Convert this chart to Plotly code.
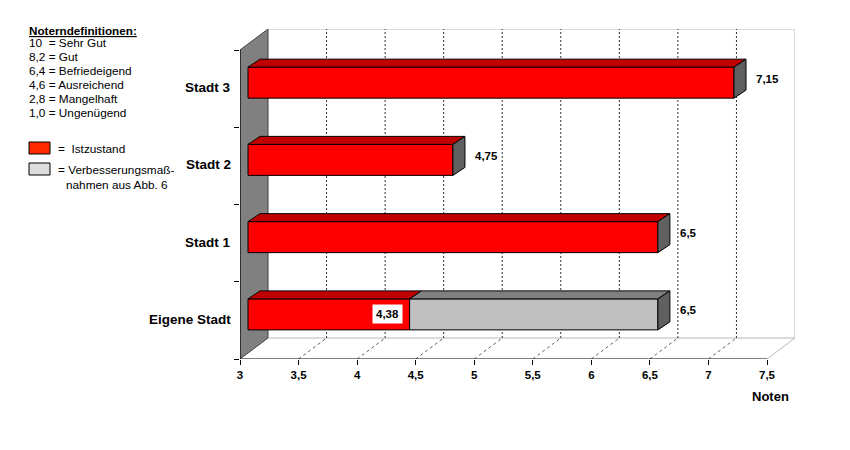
import plotly.graph_objects as go

# ---------------- data ----------------
categories = ["Eigene Stadt", "Stadt 1", "Stadt 2", "Stadt 3"]
ist_values = [4.38, 6.5, 4.75, 7.15]          # Istzustand
massnahmen_values = [6.5, None, None, None]   # nach Verbesserungsmaßnahmen
x_ticks = [3, 3.5, 4, 4.5, 5, 5.5, 6, 6.5, 7, 7.5]
noten_lines = ["10  = Sehr Gut", "8,2 = Gut", "6,4 = Befriedeigend",
               "4,6 = Ausreichend", "2,8 = Mangelhaft", "1,0 = Ungenügend"]

# ---------------- geometry (style) ----------------
W, H = 850, 450
OFF = 8  # page body margin
ML, MR, MT, MB = 240 - OFF, 55 + OFF, 29 - OFF, 91 + OFF
PX_PER_X = 117.11
PX_PER_Y = 77.25
plot_w = W - ML - MR
plot_h = H - MT - MB
XMIN = x_ticks[0]
XMAX_T = x_ticks[-1]
xr = [XMIN, XMIN + plot_w / PX_PER_X]
YLO = -0.5
yr = [YLO, YLO + plot_h / PX_PER_Y]

def dxp(p):  # pixels -> x data units
    return p / PX_PER_X

def dyp(p):  # pixels -> y data units
    return p / PX_PER_Y

wdx, wdy = dxp(28), dyp(21)    # wall depth
fdx, fdy = dxp(8), dyp(6)      # bar front-face offset
bdx, bdy = dxp(12), dyp(8)     # bar depth
bh = dyp(31)                   # bar height
YHI = len(categories) - 0.5
YTOP = yr[1]

def px(x):  # screen pixel -> paper
    return (x - OFF - ML) / plot_w

def py(y):
    return (H - MB - (y - OFF)) / plot_h

def fmt(v):
    return f"{v:g}".replace(".", ",")

FONT = "Arial, Liberation Sans, sans-serif"
RED, RED_TOP = "#FF0000", "#C00000"
GRAY, GRAY_TOP = "#C0C0C0", "#808080"
SIDE = "#606060"

fig = go.Figure()
shapes = []

# left wall
shapes.append(dict(type="path", layer="below",
                   path=f"M {XMIN},{YLO} L {XMIN},{YHI} L {XMIN+wdx},{YTOP} L {XMIN+wdx},{YLO+wdy} Z",
                   fillcolor="#808080", line=dict(color="#404040", width=1)))
# back wall border
for (x0, y0, x1, y1) in [(XMIN + wdx, YTOP, XMAX_T + wdx, YTOP),
                         (XMAX_T + wdx, YLO + wdy, XMAX_T + wdx, YTOP),
                         (XMIN + wdx, YLO + wdy, XMAX_T + wdx, YLO + wdy),
                         (XMAX_T, YLO, XMAX_T + wdx, YLO + wdy)]:
    shapes.append(dict(type="line", layer="below", x0=x0, y0=y0, x1=x1, y1=y1,
                       line=dict(color="#B8B8B8", width=1)))
# gridlines
for v in x_ticks[1:-1]:
    shapes.append(dict(type="line", layer="below", x0=v + wdx, y0=YLO + wdy, x1=v + wdx, y1=YTOP,
                       line=dict(color="#303030", width=1, dash="2px,2px")))
    shapes.append(dict(type="line", layer="below", x0=v, y0=YLO, x1=v + wdx, y1=YLO + wdy,
                       line=dict(color="#606060", width=1, dash="3px,3px")))
# axis lines
shapes.append(dict(type="line", x0=XMIN, y0=YLO, x1=XMAX_T, y1=YLO, line=dict(color="black", width=1)))
shapes.append(dict(type="line", x0=XMIN, y0=YLO, x1=XMIN, y1=YHI, line=dict(color="black", width=1)))

# ---------------- bars ----------------
def add_segment(i, start, end, top, side_face):
    yc = i + fdy
    y0, y1 = yc - bh / 2, yc + bh / 2
    x0, x1 = start + fdx, end + fdx
    fig.add_trace(go.Scatter(x=[x0, x1, x1 + bdx, x0 + bdx, x0], y=[y1, y1, y1 + bdy, y1 + bdy, y1],
                             mode="lines", fill="toself", fillcolor=top,
                             line=dict(color="black", width=1), hoverinfo="skip", showlegend=False))
    if side_face:
        fig.add_trace(go.Scatter(x=[x1, x1 + bdx, x1 + bdx, x1, x1], y=[y0, y0 + bdy, y1 + bdy, y1, y0],
                                 mode="lines", fill="toself", fillcolor=SIDE,
                                 line=dict(color="black", width=1), hoverinfo="skip", showlegend=False))

ist_base, ist_len, ist_y = [], [], []
gr_base, gr_len, gr_y = [], [], []
for i, cat in enumerate(categories):
    v = ist_values[i]
    m = massnahmen_values[i]
    ist_base.append(XMIN + fdx)
    ist_len.append(v - XMIN)
    ist_y.append(i + fdy)
    add_segment(i, XMIN, v, RED_TOP, m is None)
    if m is not None:
        gr_base.append(v + fdx)
        gr_len.append(m - v)
        gr_y.append(i + fdy)
        add_segment(i, v, m, GRAY_TOP, True)

fig.add_trace(go.Bar(orientation="h", y=ist_y, x=ist_len, base=ist_base, width=bh,
                     marker=dict(color=RED, line=dict(color="black", width=1)),
                     showlegend=False, hoverinfo="skip"))
fig.add_trace(go.Bar(orientation="h", y=gr_y, x=gr_len, base=gr_base, width=bh,
                     marker=dict(color=GRAY, line=dict(color="black", width=1)),
                     showlegend=False, hoverinfo="skip"))

annotations = []
# category labels
for i, cat in enumerate(categories):
    annotations.append(dict(x=XMIN, y=i, xref="x", yref="y", text=f"<b>{cat}</b>", showarrow=False,
                            xanchor="right", yanchor="middle", xshift=-7, yshift=1,
                            font=dict(family=FONT, size=13.5, color="black")))
# value labels
for i, cat in enumerate(categories):
    v = ist_values[i]
    m = massnahmen_values[i]
    end = m if m is not None else v
    annotations.append(dict(x=end + fdx + bdx, y=i + fdy + bdy / 2, xref="x", yref="y",
                            text=f"<b>{fmt(end)}</b>", showarrow=False, xanchor="left", yanchor="middle",
                            xshift=8, font=dict(family=FONT, size=11.5, color="black")))
    if m is not None:
        annotations.append(dict(x=v + fdx, y=i + fdy, xref="x", yref="y", text=f"<b>{fmt(v)}</b>",
                                showarrow=False, xanchor="right", yanchor="middle", xshift=-7,
                                bgcolor="white", borderpad=3,
                                font=dict(family=FONT, size=11.5, color="black")))
# axis title
annotations.append(dict(x=px(770), y=py(396), xref="paper", yref="paper", text="<b>Noten</b>",
                        showarrow=False, xanchor="center", yanchor="middle",
                        font=dict(family=FONT, size=13, color="black")))
# Noten definitions
annotations.append(dict(x=px(27), y=py(30), xref="paper", yref="paper",
                        text="<b><u>Noterndefinitionen:</u></b>", showarrow=False,
                        xanchor="left", yanchor="middle", font=dict(family=FONT, size=11.7, color="black")))
for k, line in enumerate(noten_lines):
    annotations.append(dict(x=px(27), y=py(43 + 14 * k), xref="paper", yref="paper", text=line,
                            showarrow=False, xanchor="left", yanchor="middle",
                            font=dict(family=FONT, size=11.8, color="black")))
# legend
shapes.append(dict(type="rect", xref="paper", yref="paper", x0=px(29), x1=px(50), y0=py(154), y1=py(142),
                   fillcolor="#FF2A00", line=dict(color="black", width=1)))
shapes.append(dict(type="rect", xref="paper", yref="paper", x0=px(29), x1=px(50), y0=py(175), y1=py(163),
                   fillcolor="#DDDDDD", line=dict(color="black", width=1)))
annotations.append(dict(x=px(56), y=py(149), xref="paper", yref="paper", text="=  Istzustand",
                        showarrow=False, xanchor="left", yanchor="middle",
                        font=dict(family=FONT, size=11.8, color="black")))
annotations.append(dict(x=px(56), y=py(170), xref="paper", yref="paper", text="= Verbesserungsmaß-",
                        showarrow=False, xanchor="left", yanchor="middle",
                        font=dict(family=FONT, size=11.8, color="black")))
annotations.append(dict(x=px(64), y=py(185), xref="paper", yref="paper", text="nahmen aus Abb. 6",
                        showarrow=False, xanchor="left", yanchor="middle",
                        font=dict(family=FONT, size=11.8, color="black")))

fig.update_layout(
    width=W, height=H, autosize=False,
    margin=dict(l=ML, r=MR, t=MT, b=MB, pad=0),
    paper_bgcolor="white", plot_bgcolor="white",
    barmode="overlay", showlegend=False,
    shapes=shapes, annotations=annotations,
    xaxis=dict(range=xr, tickvals=x_ticks, ticktext=[f"<b>{fmt(v)}</b>" for v in x_ticks],
               ticks="outside", ticklen=5, tickcolor="black", showgrid=False, zeroline=False,
               showline=False, fixedrange=True, tickfont=dict(family=FONT, size=11.5, color="black")),
    yaxis=dict(range=yr, tickvals=[i - 0.5 for i in range(len(categories) + 1)],
               showticklabels=False, ticks="outside", ticklen=5, tickcolor="black",
               showgrid=False, zeroline=False, showline=False, fixedrange=True),
)

fig.write_html("out.html")
